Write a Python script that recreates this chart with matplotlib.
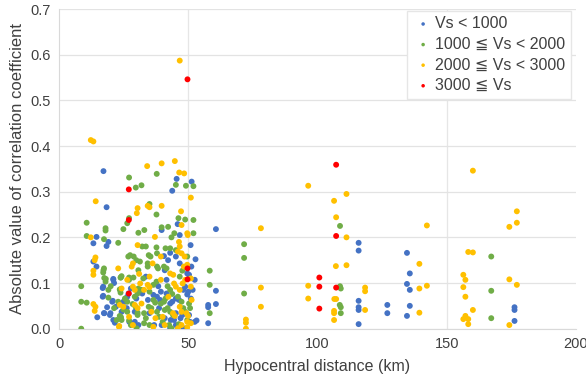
import matplotlib
matplotlib.use('Agg')
import matplotlib.pyplot as plt

plt.rcParams['font.family'] = ['Liberation Sans', 'DejaVu Sans']

# Vs < 1000
blue_x = [17.2, 18.4, 14.5, 13.3, 13.3, 14.5, 18.4, 19.1, 17.1, 17.1, 18.6, 14.8, 17.4, 19.9, 20.6,
          21.0, 21.3, 21.6, 24.2, 26.9, 27.2, 39.7, 40.6, 43.8, 45.5, 45.9, 51.3, 50.9, 52.8, 42.2,
          43.0, 46.7, 51.2, 50.3, 52.5, 40.9, 41.6, 38.4, 39.4, 43.8, 45.2, 47.0, 49.6, 51.7, 52.5,
          35.0, 36.8, 39.7, 43.2, 29.3, 33.6,
          45.2, 46.7, 49.6, 37.9, 39.1, 41.6, 43.0, 45.2, 46.4, 48.1, 48.8, 50.0, 51.0, 50.3, 50.7,
          53.2, 47.7, 44.5, 45.2, 48.1, 40.9, 38.7, 34.4, 36.5, 32.2, 29.9, 27.8, 26.4, 24.9, 22.0,
          29.3, 30.7, 43.0, 16.9, 16.9, 21.0, 20.8, 17.5, 19.7, 21.0, 25.5, 26.2,
          60.7, 60.7, 60.7, 57.7, 57.7, 57.7, 115.9, 115.9, 115.9, 115.9, 115.9, 115.9,
          127.0, 127.0, 134.6, 134.6, 135.7, 135.7, 135.7, 134.6, 176.2, 176.2, 176.2]
blue_y = [0.345, 0.266, 0.201, 0.187, 0.147, 0.136, 0.181, 0.190, 0.092, 0.072, 0.047, 0.025, 0.034, 0.034, 0.059,
          0.107, 0.100, 0.013, 0.037, 0.077, 0.015, 0.216, 0.159, 0.302, 0.328, 0.229, 0.322, 0.183, 0.152, 0.150,
          0.166, 0.205, 0.136, 0.118, 0.107, 0.128, 0.107, 0.093, 0.081, 0.059, 0.034, 0.023, 0.075, 0.085, 0.015,
          0.034, 0.008, 0.008, 0.019, 0.037, 0.114,
          0.158, 0.143, 0.121, 0.070, 0.063, 0.077, 0.055, 0.066, 0.063, 0.085, 0.092, 0.081, 0.066, 0.030, 0.015,
          0.018, 0.030, 0.019, 0.008, 0.001, 0.023, 0.045, 0.063, 0.074, 0.077, 0.066, 0.088, 0.070, 0.059, 0.048,
          0.015, 0.008, 0.001, 0.089, 0.070, 0.109, 0.061, 0.034, 0.030, 0.019, 0.059, 0.045,
          0.218, 0.083, 0.054, 0.052, 0.047, 0.012, 0.188, 0.171, 0.061, 0.047, 0.041, 0.010,
          0.052, 0.034, 0.166, 0.098, 0.121, 0.085, 0.050, 0.028, 0.047, 0.041, 0.017]

# 1000 <= Vs < 2000
green_x = [8.6, 8.6, 8.6, 10.7, 10.7, 10.7, 18.0, 18.0, 17.4, 17.4, 17.1, 22.9, 27.1, 27.1, 26.4,
           24.9, 29.7, 31.9, 30.7, 33.0, 35.0, 37.8, 37.7, 39.7, 42.2, 45.2, 49.1, 52.0, 46.2, 48.8,
           52.0, 52.0, 41.2,
           18.1, 18.0, 19.1, 23.8, 24.2, 23.5, 23.8, 22.9, 25.5, 26.4, 27.1, 27.1, 27.5, 26.8, 28.9,
           29.9, 31.3, 32.2, 33.6, 34.7, 35.4, 34.3, 34.3, 30.7, 32.6, 30.7, 31.9, 29.3, 30.4, 28.5,
           29.6, 30.4, 30.4, 32.9, 33.6, 34.7, 35.7, 36.5, 37.2, 35.0, 36.5, 37.7, 37.9, 38.3, 37.9,
           37.7, 40.6, 41.6, 42.0, 43.0, 39.4, 40.6, 40.9, 42.0, 43.0, 44.1, 38.7, 40.1, 42.6, 43.5,
           41.2, 43.8, 46.0, 46.7, 47.4, 48.1, 48.8, 50.3, 50.7, 49.6, 47.7, 43.0, 43.5, 44.6, 45.2,
           24.9, 26.4, 23.5, 24.2, 22.3, 27.1, 27.8, 30.0, 32.9, 35.0, 37.9, 46.4, 20.0, 19.1, 28.8,
           21.3, 49.6, 17.2, 17.5, 23.9, 23.6, 24.0,
           58.3, 58.3, 58.3, 71.6, 71.6, 71.6, 108.7, 108.7, 109.0, 108.6, 109.0, 109.0,
           167.2, 167.2, 167.2]
green_y = [0.000, 0.093, 0.059, 0.232, 0.203, 0.057, 0.220, 0.215, 0.196, 0.132, 0.123, 0.188, 0.331, 0.242, 0.231,
           0.218, 0.309, 0.314, 0.210, 0.216, 0.273, 0.339, 0.250, 0.222, 0.223, 0.315, 0.313, 0.312, 0.242, 0.239,
           0.238, 0.209, 0.176,
           0.109, 0.103, 0.085, 0.112, 0.115, 0.086, 0.079, 0.059, 0.066, 0.059, 0.112, 0.107, 0.161, 0.158, 0.158,
           0.150, 0.147, 0.180, 0.180, 0.161, 0.158, 0.143, 0.136, 0.128, 0.110, 0.088, 0.085, 0.070, 0.077, 0.054,
           0.048, 0.035, 0.030, 0.034, 0.023, 0.048, 0.045, 0.063, 0.057, 0.081, 0.096, 0.103, 0.136, 0.132, 0.165,
           0.178, 0.136, 0.132, 0.093, 0.085, 0.055, 0.059, 0.041, 0.045, 0.037, 0.030, 0.026, 0.015, 0.008, 0.001,
           0.066, 0.076, 0.070, 0.114, 0.059, 0.045, 0.037, 0.055, 0.045, 0.158, 0.127, 0.176, 0.200, 0.209, 0.172,
           0.042, 0.037, 0.028, 0.019, 0.019, 0.018, 0.008, 0.001, 0.012, 0.008, 0.037, 0.010, 0.093, 0.068, 0.112,
           0.045, 0.019, 0.128, 0.111, 0.112, 0.085, 0.025,
           0.127, 0.096, 0.034, 0.185, 0.155, 0.077, 0.225, 0.093, 0.088, 0.052, 0.047, 0.034,
           0.158, 0.083, 0.023]

# 2000 <= Vs < 3000
yellow_x = [12.3, 13.3, 14.2, 12.3, 14.1, 13.8, 13.3, 13.3, 13.3, 14.1, 13.8, 34.1, 39.7, 44.8, 46.5,
            48.4, 46.7, 30.4, 30.1, 34.3, 35.0, 39.7, 47.2, 51.0, 37.1, 30.4, 47.4, 49.6, 49.8, 28.6,
            28.1, 22.9, 47.4, 48.6, 39.4, 44.2, 31.0, 49.6, 51.0, 51.3,
            24.2, 23.5, 23.2, 26.4, 28.6, 29.3, 31.4, 32.9, 34.3, 35.0, 35.0, 36.2, 39.4, 43.0, 44.5,
            45.2, 46.7, 47.8, 48.8, 48.3, 46.7, 46.0, 46.4, 29.3, 30.4, 31.9, 35.7, 37.3, 36.5, 40.1,
            44.1, 44.8, 46.7, 47.4, 49.3, 49.9, 49.6, 51.0, 47.4, 49.6, 46.0, 27.1, 28.6, 40.9, 42.3,
            51.0, 23.3, 24.9,
            78.1, 78.1, 78.1, 72.3, 72.3, 72.3, 96.4, 96.4, 96.4, 106.4, 107.2, 111.2, 111.2, 107.1,
            111.2, 106.5, 107.2, 106.4, 106.4, 106.4, 118.4, 118.4, 118.4, 139.4, 139.4, 139.4, 142.3,
            142.3, 160.1, 158.3, 160.1, 156.4, 157.2, 156.4, 157.2, 160.1, 156.4, 157.2, 158.3, 158.3,
            174.2, 177.1, 177.1, 174.2, 177.1, 174.2]
yellow_y = [0.413, 0.410, 0.279, 0.200, 0.156, 0.150, 0.127, 0.118, 0.054, 0.048, 0.039, 0.356, 0.362, 0.367, 0.342,
            0.340, 0.587, 0.264, 0.253, 0.269, 0.266, 0.269, 0.257, 0.287, 0.201, 0.183, 0.227, 0.209, 0.205, 0.143,
            0.136, 0.132, 0.165, 0.158, 0.158, 0.118, 0.120, 0.140, 0.092, 0.063,
            0.088, 0.052, 0.004, 0.107, 0.092, 0.085, 0.099, 0.085, 0.096, 0.091, 0.114, 0.143, 0.107, 0.121, 0.099,
            0.092, 0.085, 0.099, 0.107, 0.136, 0.180, 0.169, 0.190, 0.052, 0.045, 0.055, 0.037, 0.023, 0.004, 0.026,
            0.034, 0.028, 0.048, 0.037, 0.034, 0.028, 0.015, 0.012, 0.008, 0.003, 0.001, 0.026, 0.008, 0.008, 0.070,
            0.110, 0.006, 0.048,
            0.220, 0.090, 0.048, 0.020, 0.013, 0.000, 0.313, 0.094, 0.066, 0.280, 0.244, 0.295, 0.200, 0.137,
            0.139, 0.065, 0.065, 0.039, 0.034, 0.019, 0.090, 0.082, 0.041, 0.142, 0.088, 0.035, 0.226,
            0.094, 0.346, 0.168, 0.167, 0.118, 0.107, 0.091, 0.070, 0.041, 0.021, 0.028, 0.021, 0.010,
            0.223, 0.232, 0.257, 0.108, 0.096, 0.008]

# 3000 <= Vs
red_x = [49.7, 27.0, 27.0, 27.0, 49.7, 49.7, 107.2, 107.2, 107.2, 100.7, 100.7, 100.7]
red_y = [0.546, 0.305, 0.238, 0.077, 0.132, 0.108, 0.359, 0.203, 0.090, 0.112, 0.092, 0.044]

labels = ['Vs < 1000', '1000 ≦ Vs < 2000', '2000 ≦ Vs < 3000', '3000 ≦ Vs']
colors = ['#4472C4', '#70AD47', '#FFC000', '#FF0000']

fig = plt.figure(figsize=(5.86, 3.83), dpi=100)
ax = fig.add_axes([0.1007, 0.1418, 0.8823, 0.8347])

series = [(blue_x, blue_y), (green_x, green_y), (yellow_x, yellow_y), (red_x, red_y)]
for (xs, ys), c, lab in zip(series, colors, labels):
    ax.scatter(xs, ys, s=18, color=c, edgecolors='none', label=lab, zorder=3)

ax.set_xlim(0, 200)
ax.set_ylim(0, 0.7)
ax.set_xticks([0, 50, 100, 150, 200])
ax.set_yticks([0, 0.1, 0.2, 0.3, 0.4, 0.5, 0.6, 0.7])
ax.set_yticklabels(['%.1f' % v for v in ax.get_yticks()])
ax.tick_params(length=0, labelsize=10.5, colors='#404040', pad=6)
ax.grid(True, axis='y', color='#e3e3e3', linewidth=0.9, zorder=0)
# vertical gridlines only show at 50 and 150 in the original
for gx in [50, 150]:
    ax.axvline(gx, color='#e6e6e6', linewidth=0.9, zorder=0)
for s in ['top', 'right']:
    ax.spines[s].set_visible(False)
ax.spines['bottom'].set_color('#d9d9d9')
ax.spines['left'].set_color('#d9d9d9')

ax.set_xlabel('Hypocentral distance (km)', fontsize=11.5, color='#404040', labelpad=6)
ax.set_ylabel('Absolute value of correlation coefficient', fontsize=12, color='#404040', labelpad=4)

leg = ax.legend(loc='upper right', bbox_to_anchor=(0.993, 1.0), fontsize=11.5, markerscale=0.6,
                handletextpad=0.1, handlelength=1.3, labelspacing=0.35, borderpad=0.35,
                borderaxespad=0.1, fancybox=False, framealpha=1, edgecolor='#e6e6e6')
for t in leg.get_texts():
    t.set_color('#404040')

fig.savefig('out.png', dpi=100)
